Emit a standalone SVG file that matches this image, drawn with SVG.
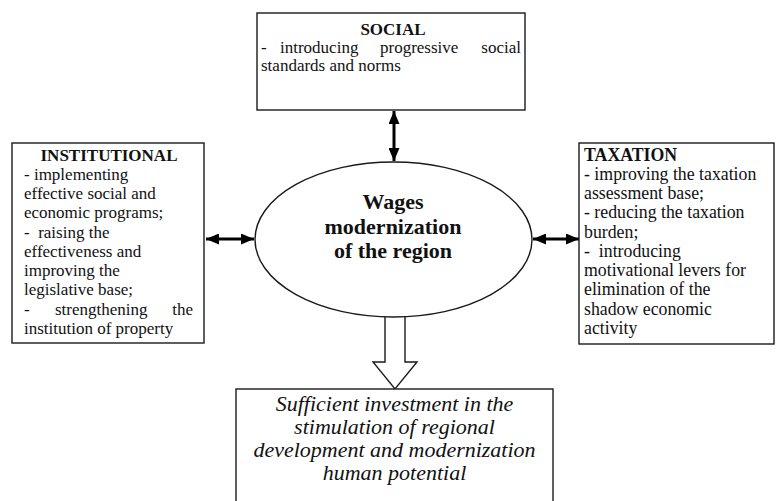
<svg xmlns="http://www.w3.org/2000/svg" width="776" height="501" viewBox="0 0 776 501">
<style>
.box{fill:#fff;stroke:#1a1a1a;stroke-width:1.4}
.t{font-family:"Liberation Serif","Times New Roman",serif;font-size:17px;fill:#111}
.tx{font-family:"Liberation Serif","Times New Roman",serif;font-size:17.8px;fill:#111}
.b{font-weight:bold}
.c{font-family:"Liberation Serif","Times New Roman",serif;font-size:22px;font-weight:bold;fill:#111;text-anchor:middle}
.i{font-family:"Liberation Serif","Times New Roman",serif;font-size:20px;font-style:italic;fill:#111;text-anchor:middle}
.arr{stroke:#000;stroke-width:3;fill:none;marker-start:url(#ah);marker-end:url(#ah)}
</style>
<defs>
<marker id="ah" markerUnits="userSpaceOnUse" markerWidth="13" markerHeight="11" refX="13" refY="5.5" orient="auto-start-reverse" viewBox="0 0 13 11">
<path d="M0,0 L13,5.5 L0,11 Z" fill="#000"/>
</marker>
</defs>
<rect width="776" height="501" fill="#fff"/>
<g id="connectors">
<line class="arr" x1="394" y1="111" x2="394" y2="161"/>
<line class="arr" x1="206" y1="239" x2="254" y2="239"/>
<line class="arr" x1="533" y1="239" x2="579" y2="239"/>
<polygon points="385,312 405,312 405,362 417,362 395,389 373,362 385,362" fill="#fff" stroke="#1a1a1a" stroke-width="1.4"/>
</g>
<g id="social">
<rect class="box" x="257" y="13" width="268" height="97"/>
<text class="t b" x="393" y="35" text-anchor="middle">SOCIAL</text>
<text class="t" y="53"><tspan x="261">-</tspan><tspan x="280">introducing</tspan><tspan x="380">progressive</tspan><tspan x="521" text-anchor="end">social</tspan><tspan x="261" y="71">standards and norms</tspan></text>
</g>
<g id="institutional">
<rect class="box" x="12" y="143" width="192" height="200"/>
<text class="t b" x="109" y="161" text-anchor="middle">INSTITUTIONAL</text>
<text class="t" xml:space="preserve"><tspan x="24" y="180">- implementing</tspan><tspan x="24" y="199">effective social and</tspan><tspan x="24" y="218">economic programs;</tspan><tspan x="24" y="238">-  raising the</tspan><tspan x="24" y="257">effectiveness and</tspan><tspan x="24" y="276">improving the</tspan><tspan x="24" y="295">legislative base;</tspan><tspan x="24" y="315">-</tspan><tspan x="55" y="315">strengthening</tspan><tspan x="193" y="315" text-anchor="end">the</tspan><tspan x="24" y="334">institution of property</tspan></text>
</g>
<g id="taxation">
<rect class="box" x="579" y="143" width="195" height="201"/>
<text class="tx b" x="584" y="161">TAXATION</text>
<text class="tx" xml:space="preserve"><tspan x="584" y="180">- improving the taxation</tspan><tspan x="584" y="199">assessment base;</tspan><tspan x="584" y="218">- reducing the taxation</tspan><tspan x="584" y="238">burden;</tspan><tspan x="584" y="257">-  introducing</tspan><tspan x="584" y="276">motivational levers for</tspan><tspan x="584" y="295">elimination of the</tspan><tspan x="584" y="315">shadow economic</tspan><tspan x="584" y="334">activity</tspan></text>
</g>
<g id="center">
<ellipse cx="393.5" cy="239.5" rx="138.5" ry="77.5" fill="#fff" stroke="#1a1a1a" stroke-width="1.4"/>
<text class="c"><tspan x="393" y="209">Wages</tspan><tspan x="393" y="234">modernization</tspan><tspan x="393" y="258">of the region</tspan></text>
</g>
<g id="result">
<rect class="box" x="236" y="389" width="317" height="130"/>
<g transform="translate(394.5,0) scale(1.1,1) translate(-394.5,0)">
<text class="i" x="394.5" y="411">Sufficient investment in the</text>
<text class="i" x="394.5" y="434">stimulation of regional</text>
<text class="i" x="394.5" y="457">development and modernization</text>
<text class="i" x="394.5" y="480">human potential</text>
</g>
</g>
</svg>
